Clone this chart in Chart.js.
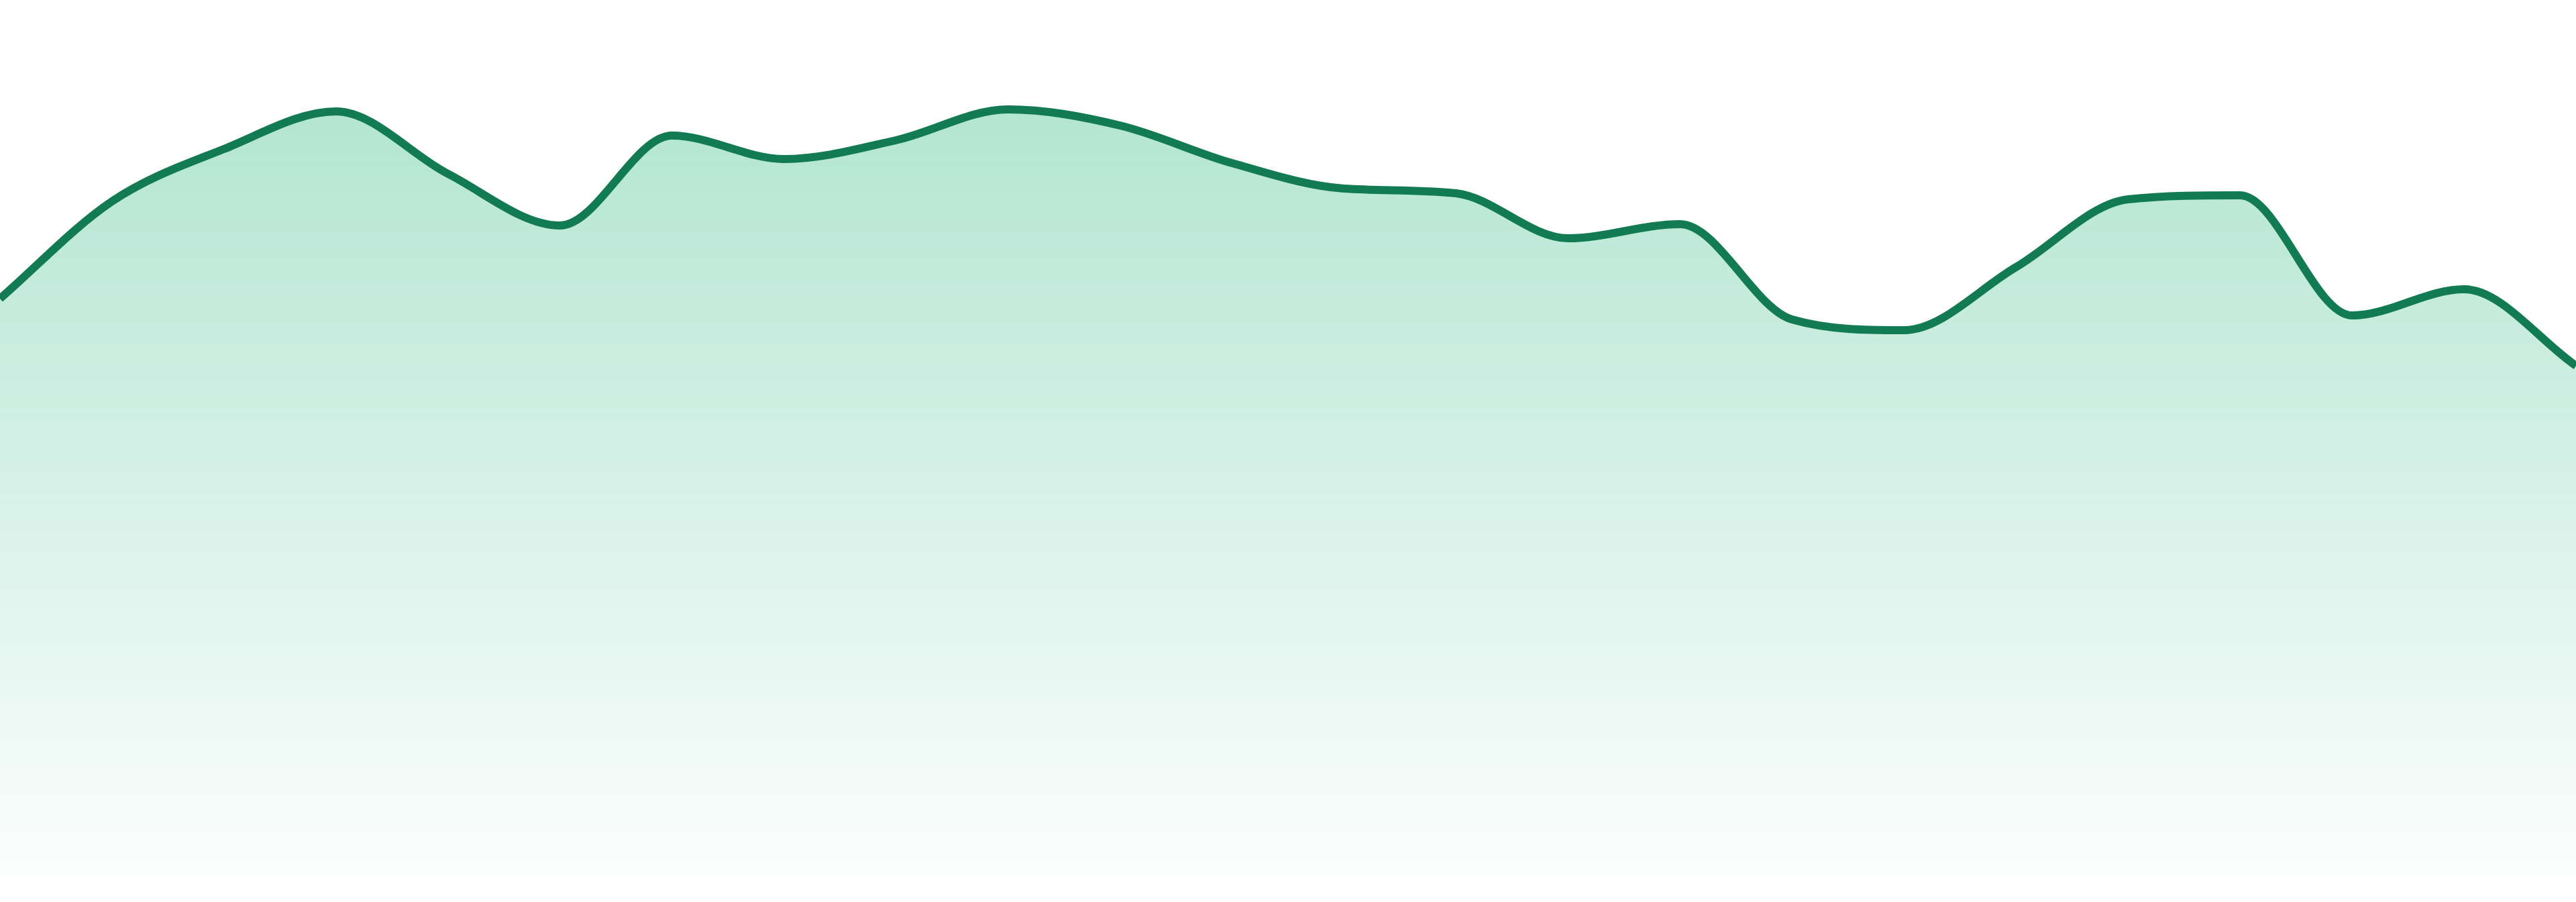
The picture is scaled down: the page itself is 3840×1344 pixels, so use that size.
<!DOCTYPE html>
<html>
<head>
<meta charset="utf-8">
<script src="https://cdn.jsdelivr.net/npm/chart.js@4"></script>
<style>
  html, body { margin: 0; padding: 0; background: #ffffff; }
  #wrap { width: 100vw; height: 100vh; position: relative; }
</style>
</head>
<body>
<div id="wrap"><canvas id="c"></canvas></div>
<script>
const labels = ["1","2","3","4","5","6","7","8","9","10","11","12","13","14","15","16","17","18","19","20","21","22","23","24"];
const values = [85.9, 100.4, 108.2, 113.8, 104.5, 96.8, 110.2, 106.7, 109.5, 114.1, 111.7, 106.1, 102.3, 101.6, 94.9, 97.0, 82.8, 81.2, 90.6, 100.7, 101.3, 83.4, 87.3, 75.9];
const yMin = 0;
const yMax = 130.4;

const lineColor = "#127b53";

new Chart(document.getElementById("c"), {
  type: "line",
  data: {
    labels: labels,
    datasets: [{
      data: values,
      borderColor: lineColor,
      borderWidth: 12,
      pointRadius: 0,
      pointHoverRadius: 0,
      cubicInterpolationMode: "monotone",
      fill: "start",
      backgroundColor: function(ctx) {
        const chart = ctx.chart;
        const area = chart.chartArea;
        if (!area) return "rgba(30,180,125,0.2)";
        const g = chart.ctx.createLinearGradient(0, area.top, 0, area.bottom);
        g.addColorStop(0, "rgba(28,178,122,0.38)");
        g.addColorStop(1, "rgba(28,178,122,0.015)");
        return g;
      }
    }]
  },
  options: {
    responsive: true,
    maintainAspectRatio: false,
    animation: false,
    layout: { padding: { top: 0, left: 0, right: 0, bottom: 40 } },
    plugins: { legend: { display: false }, tooltip: { enabled: false } },
    scales: {
      x: { display: false, offset: false },
      y: { display: false, min: yMin, max: yMax }
    }
  }
});
</script>
</body>
</html>
